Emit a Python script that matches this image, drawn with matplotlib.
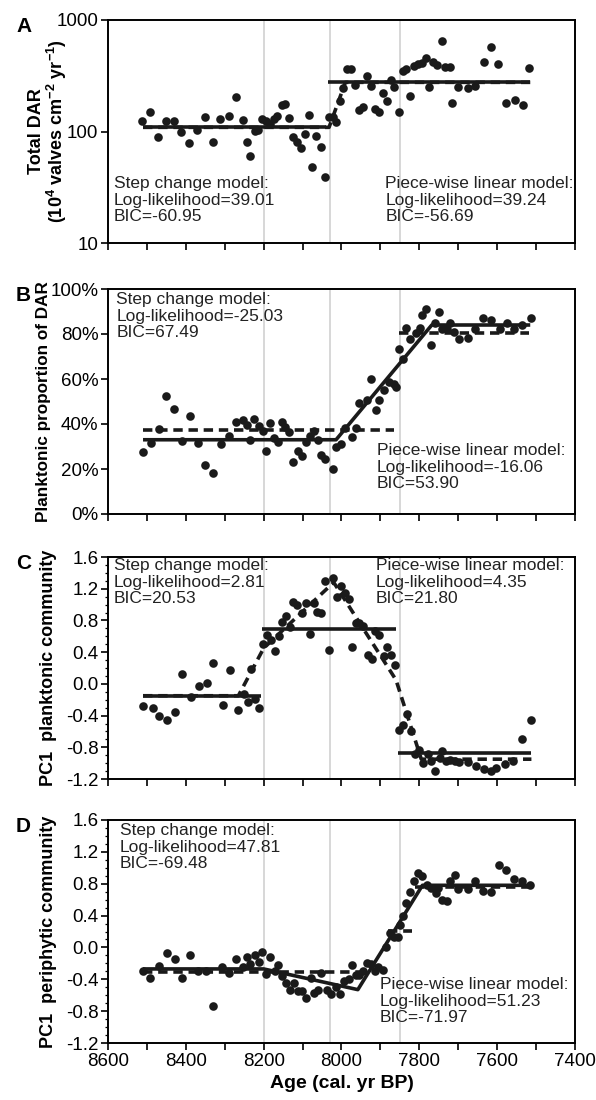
"""
Step change vs piece-wise linear model fits for the diatom record
(total DAR, planktonic proportion, PC1 planktonic and periphytic).
"""

import matplotlib
matplotlib.use('Agg')
import matplotlib.pyplot as plt
from matplotlib.ticker import FixedLocator, MultipleLocator, PercentFormatter

plt.rcParams['font.family'] = ['Liberation Sans', 'DejaVu Sans']
plt.rcParams['mathtext.fontset'] = 'custom'
plt.rcParams['mathtext.rm'] = 'Liberation Sans'
plt.rcParams['mathtext.bf'] = 'Liberation Sans:bold'

# ---- panel A: total DAR (log scale) ----
age_a = [8513, 8491, 8472, 8452, 8431, 8413, 8391, 8372, 8350, 8331, 8313, 8289,
         8272, 8254, 8244, 8234, 8223, 8215, 8205, 8195, 8184, 8174, 8166, 8154,
         8144, 8135, 8125, 8115, 8103, 8094, 8084, 8076, 8066, 8052, 8043, 8033,
         8023, 8013, 8003, 7995, 7986, 7976, 7966, 7954, 7945, 7935, 7923, 7915,
         7903, 7894, 7884, 7872, 7864, 7853, 7843, 7833, 7823, 7813, 7804, 7794,
         7784, 7774, 7764, 7755, 7743, 7733, 7721, 7715, 7701, 7676, 7657, 7635,
         7617, 7598, 7578, 7554, 7534, 7517]
dar_a = [125, 151, 90, 123, 125, 98, 79, 103, 134, 81, 130, 139,
         206, 128, 81, 60, 102, 103, 130, 124, 117, 130, 139, 173,
         176, 131, 90, 81, 71, 94, 141, 48, 92, 73, 39, 136,
         136, 121, 186, 245, 361, 366, 260, 157, 165, 315, 256, 160,
         151, 222, 187, 292, 250, 149, 351, 366, 208, 387, 401, 412,
         457, 252, 421, 393, 647, 379, 379, 179, 250, 245, 256, 421,
         574, 406, 179, 190, 173, 374]
# step segments: (start age, end age, level)
step_a = [(8510, 8040, 109), (8035, 7515, 280)]
pwl_a_age = [8510, 8032, 7990, 7515]
pwl_a_val = [109, 109, 276, 276]

# ---- panel B: planktonic proportion (%) ----
age_b = [8511, 8489, 8470, 8450, 8431, 8409, 8389, 8370, 8350, 8331, 8309, 8288,
         8270, 8254, 8244, 8234, 8225, 8211, 8201, 8193, 8184, 8174, 8164, 8154,
         8144, 8135, 8125, 8111, 8101, 8091, 8081, 8071, 8061, 8052, 8043, 8023,
         8013, 8001, 7991, 7974, 7962, 7954, 7935, 7923, 7911, 7903, 7892, 7878,
         7866, 7860, 7852, 7843, 7833, 7823, 7809, 7799, 7794, 7782, 7770, 7760,
         7749, 7741, 7729, 7721, 7711, 7697, 7676, 7657, 7637, 7615, 7594, 7576,
         7557, 7537, 7514]
pct_b = [27.7, 31.4, 38.0, 52.5, 46.5, 32.5, 43.6, 31.4, 21.7, 18.1, 31.1, 34.7,
         40.8, 41.6, 39.7, 32.8, 42.3, 39.3, 36.8, 28.2, 40.5, 34.0, 31.8, 40.8,
         38.7, 36.4, 23.1, 27.9, 25.7, 31.8, 34.7, 36.8, 32.9, 26.3, 24.6, 19.9,
         29.6, 31.1, 38.3, 34.4, 38.3, 49.4, 50.6, 60.0, 46.2, 50.6, 55.2, 58.5,
         57.8, 56.6, 73.4, 69.1, 82.7, 77.7, 80.6, 82.7, 88.4, 91.0, 75.1, 85.0,
         89.9, 82.1, 82.4, 85.0, 80.9, 77.7, 78.3, 82.1, 87.0, 86.4, 82.1, 85.0,
         82.1, 84.1, 87.0]
step_b = [(8510, 7865, 37.5), (7852, 7518, 80.3)]
pwl_b_age = [8510, 8014, 7768, 7515]
pwl_b_val = [33.0, 33.0, 84.0, 84.0]

# ---- panel C: PC1 planktonic community ----
age_c = [8509, 8485, 8468, 8448, 8427, 8409, 8387, 8366, 8346, 8329, 8305, 8287,
         8266, 8250, 8240, 8233, 8221, 8211, 8201, 8191, 8181, 8172, 8160, 8152,
         8142, 8133, 8125, 8115, 8101, 8091, 8082, 8071, 8063, 8052, 8043, 8031,
         8021, 8011, 8001, 7991, 7982, 7974, 7964, 7954, 7944, 7933, 7921, 7913,
         7903, 7892, 7882, 7872, 7862, 7853, 7841, 7831, 7821, 7811, 7801, 7791,
         7779, 7769, 7759, 7747, 7741, 7732, 7721, 7709, 7698, 7676, 7655, 7635,
         7616, 7604, 7580, 7559, 7537, 7514]
pc_c = [-0.28, -0.30, -0.41, -0.46, -0.36, 0.12, -0.17, -0.03, 0.01, 0.26, -0.27, 0.17,
        -0.33, -0.13, -0.23, 0.19, -0.19, -0.31, 0.50, 0.62, 0.55, 0.41, 0.60, 0.78,
        0.85, 0.72, 1.03, 0.99, 0.89, 1.02, 0.63, 1.02, 0.91, 0.90, 1.30, 0.43,
        1.33, 1.09, 1.23, 1.14, 1.07, 0.46, 0.77, 0.77, 0.73, 0.36, 0.31, 0.67,
        0.61, 0.35, 0.46, 0.37, 0.24, -0.58, -0.52, -0.38, -0.59, -0.88, -0.83, -1.00,
        -0.89, -0.97, -1.10, -0.93, -0.85, -0.97, -0.96, -0.97, -0.98, -0.98, -1.03, -1.07,
        -1.10, -1.06, -1.01, -0.97, -0.70, -0.45]
step_c = [(8510, 8207, -0.15), (8203, 7860, 0.69), (7855, 7512, -0.87)]
pwl_c_age = [8510, 8265, 8200, 8020, 7860, 7795, 7512]
pwl_c_val = [-0.15, -0.15, 0.45, 1.28, 0.05, -0.95, -0.95]

# ---- panel D: PC1 periphytic community ----
age_d = [8511, 8491, 8470, 8448, 8429, 8409, 8389, 8370, 8348, 8329, 8307, 8289,
         8270, 8254, 8244, 8234, 8223, 8213, 8203, 8193, 8184, 8172, 8162, 8152,
         8142, 8133, 8123, 8113, 8101, 8091, 8079, 8071, 8061, 8052, 8038, 8026,
         8014, 8003, 7993, 7982, 7974, 7964, 7954, 7945, 7935, 7925, 7915, 7905,
         7894, 7886, 7876, 7866, 7856, 7849, 7843, 7833, 7823, 7813, 7804, 7794,
         7780, 7770, 7758, 7753, 7741, 7729, 7721, 7709, 7700, 7676, 7657, 7637,
         7615, 7596, 7578, 7557, 7537, 7516]
pc_d = [-0.30, -0.39, -0.23, -0.07, -0.15, -0.39, -0.10, -0.30, -0.30, -0.73, -0.25, -0.32,
        -0.14, -0.25, -0.12, -0.21, -0.10, -0.18, -0.06, -0.33, -0.12, -0.30, -0.22, -0.36,
        -0.45, -0.53, -0.45, -0.55, -0.55, -0.63, -0.39, -0.57, -0.53, -0.32, -0.53, -0.58,
        -0.50, -0.59, -0.42, -0.40, -0.22, -0.34, -0.35, -0.30, -0.20, -0.21, -0.30, -0.25,
        -0.28, 0.00, 0.18, 0.13, 0.13, 0.28, 0.39, 0.56, 0.69, 0.83, 0.93, 0.90,
        0.79, 0.74, 0.68, 0.74, 0.60, 0.58, 0.83, 0.91, 0.73, 0.73, 0.84, 0.71,
        0.70, 1.04, 0.97, 0.86, 0.83, 0.79]
step_d = [(8510, 7948, -0.31), (7880, 7818, 0.21), (7812, 7515, 0.76)]
pwl_d_age = [8510, 8200, 7958, 7792, 7515]
pwl_d_val = [-0.27, -0.27, -0.53, 0.78, 0.78]

breaks = [8200, 8030, 7850]

notes = {
    'A': (('Step change model:\nLog-likelihood=39.01\nBIC=-60.95', 0.012, 0.30),
          ('Piece-wise linear model:\nLog-likelihood=39.24\nBIC=-56.69', 0.594, 0.30)),
    'B': (('Step change model:\nLog-likelihood=-25.03\nBIC=67.49', 0.018, 0.985),
          ('Piece-wise linear model:\nLog-likelihood=-16.06\nBIC=53.90', 0.575, 0.315)),
    'C': (('Step change model:\nLog-likelihood=2.81\nBIC=20.53', 0.012, 0.995),
          ('Piece-wise linear model:\nLog-likelihood=4.35\nBIC=21.80', 0.573, 0.995)),
    'D': (('Step change model:\nLog-likelihood=47.81\nBIC=-69.48', 0.025, 0.985),
          ('Piece-wise linear model:\nLog-likelihood=51.23\nBIC=-71.97', 0.582, 0.295)),
}

W, H = 596, 1100
fig = plt.figure(figsize=(W / 100, H / 100), dpi=100)


def make_axes(top_px, bottom_px):
    left, right = 108, 575
    return fig.add_axes([left / W, 1 - bottom_px / H,
                         (right - left) / W, (bottom_px - top_px) / H])


def style(ax, letter, top_px, ylabel, label_size=13, label_x=-0.128):
    ax.set_xlim(8600, 7400)
    ax.xaxis.set_major_locator(MultipleLocator(100))
    for b in breaks:
        ax.axvline(b, color='#d4d4d4', lw=1.3, zorder=0)
    for s in ax.spines.values():
        s.set_linewidth(1.4)
    ax.tick_params(direction='out', length=5, width=1.2, labelsize=13.5, pad=2)
    ax.tick_params(which='minor', direction='out', length=2.5, width=0.9)
    ax.tick_params(axis='x', labelbottom=False)
    ax.set_ylabel(ylabel, fontsize=label_size, fontweight='bold', linespacing=1.0)
    ax.yaxis.set_label_coords(label_x, 0.5)
    ax.yaxis.label.set_verticalalignment('center')
    fig.text(16 / W, 1 - (top_px - 3) / H, letter, fontsize=15,
             fontweight='bold', va='top', ha='left')
    for text, x, y in notes[letter]:
        ax.text(x, y, text, transform=ax.transAxes, fontsize=12.5,
                va='top', ha='left', linespacing=1.12, color='#222222')


def dots(ax, x, y):
    ax.plot(x, y, 'o', color='#1a1a1a', ms=6.2, mec='none', zorder=3)


LINE = dict(color='#1a1a1a', lw=2.6, zorder=4, solid_capstyle='butt')
DASH = dict(LINE, ls=(0, (2.6, 1.6)), dash_capstyle='butt')


def steps(ax, segs, dashed=False):
    for start, end, level in segs:
        ax.plot([start, end], [level, level], **(DASH if dashed else LINE))


def ramp(ax, x, y, dashed=False):
    ax.plot(x, y, **(DASH if dashed else LINE))


# A
axA = make_axes(20, 243)
axA.set_yscale('log')
axA.set_ylim(10, 1000)
axA.yaxis.set_major_locator(FixedLocator([10, 100, 1000]))
axA.yaxis.set_minor_locator(FixedLocator([]))
axA.set_yticklabels(['10', '100', '1000'])
dots(axA, age_a, dar_a)
steps(axA, step_a)
ramp(axA, pwl_a_age, pwl_a_val, dashed=True)
style(axA, 'A', 20,
      'Total DAR\n(10$^\\mathbf{4}$ valves cm$^\\mathbf{-2}$ yr$^\\mathbf{-1}$)')

# B
axB = make_axes(289, 514)
axB.set_ylim(0, 100)
axB.yaxis.set_major_locator(MultipleLocator(20))
axB.yaxis.set_major_formatter(PercentFormatter(decimals=0))
dots(axB, age_b, pct_b)
ramp(axB, pwl_b_age, pwl_b_val)
steps(axB, step_b, dashed=True)
style(axB, 'B', 289, 'Planktonic proportion of DAR', label_size=12.3,
      label_x=-0.138)

# C
axC = make_axes(557, 779)
axC.set_ylim(-1.2, 1.6)
axC.yaxis.set_major_locator(MultipleLocator(0.4))
axC.yaxis.set_minor_locator(MultipleLocator(0.1))
axC.yaxis.set_major_formatter(lambda v, p: f'{v:.1f}')
dots(axC, age_c, pc_c)
steps(axC, step_c)
ramp(axC, pwl_c_age, pwl_c_val, dashed=True)
style(axC, 'C', 557, 'PC1  planktonic community')

# D
axD = make_axes(820, 1043)
axD.set_ylim(-1.2, 1.6)
axD.yaxis.set_major_locator(MultipleLocator(0.4))
axD.yaxis.set_minor_locator(MultipleLocator(0.1))
axD.yaxis.set_major_formatter(lambda v, p: f'{v:.1f}')
dots(axD, age_d, pc_d)
ramp(axD, pwl_d_age, pwl_d_val)
steps(axD, step_d, dashed=True)
style(axD, 'D', 820, 'PC1  periphytic community')
axD.xaxis.set_major_formatter(lambda v, p: f'{v:.0f}' if round(v) % 200 == 0 else '')
axD.tick_params(axis='x', labelbottom=True)
axD.set_xlabel('Age (cal. yr BP)', fontsize=14, fontweight='bold', labelpad=4)

fig.savefig('out.png', dpi=100)
